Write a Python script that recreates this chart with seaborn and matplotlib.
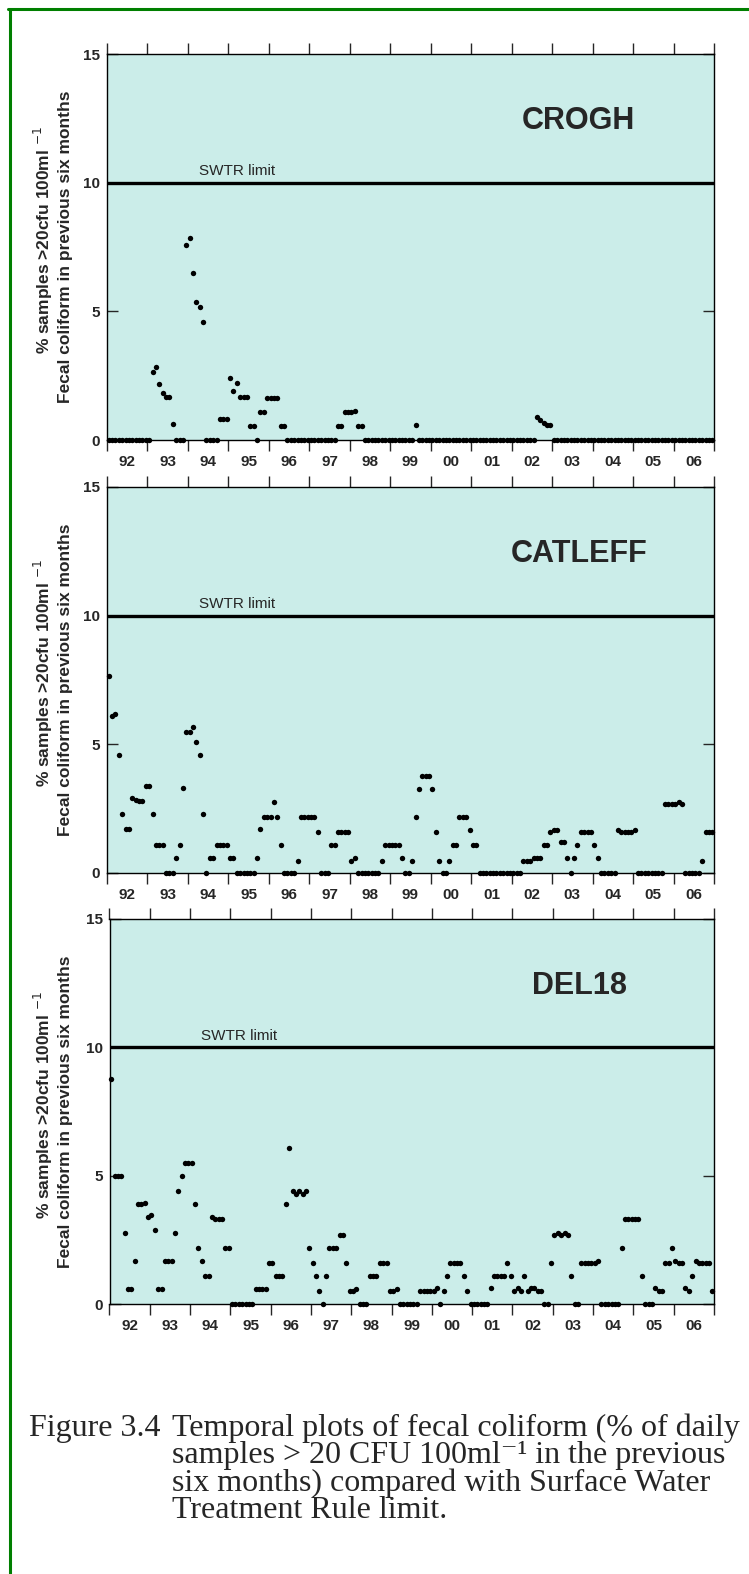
import numpy as np
import pandas as pd
import matplotlib.pyplot as plt
import seaborn as sns
from matplotlib.lines import Line2D

sns.set_style("ticks")
plt.rcParams['font.family'] = ['Liberation Sans', 'DejaVu Sans']

#
# Monthly values, Jan 1992 - Dec 2006 (one row per year)

stations = ["CROGH", "CATLEFF", "DEL18"]
year_labels = ["92", "93", "94", "95", "96", "97", "98", "99",
               "00", "01", "02", "03", "04", "05", "06"]
swtr_limit = 10

crogh = [
    0, 0, 0, 0, 0, 0, 0, 0, 0, 0, 0, 0,
    0, 2.66, 2.85, 2.19, 1.81, 1.68, 1.68, 0.61, 0, 0, 0, 7.58,
    7.84, 6.50, 5.36, 5.16, 4.57, 0, 0, 0, 0, 0.80, 0.80, 0.80,
    2.40, 1.92, 2.23, 1.67, 1.67, 1.67, 0.53, 0.53, 0, 1.08, 1.08, 1.63,
    1.63, 1.63, 1.63, 0.53, 0.53, 0, 0, 0, 0, 0, 0, 0,
    0, 0, 0, 0, 0, 0, 0, 0, 0.53, 0.53, 1.08, 1.08,
    1.10, 1.11, 0.53, 0.53, 0, 0, 0, 0, 0, 0, 0, 0,
    0, 0, 0, 0, 0, 0, 0, 0.58, 0, 0, 0, 0,
    0, 0, 0, 0, 0, 0, 0, 0, 0, 0, 0, 0,
    0, 0, 0, 0, 0, 0, 0, 0, 0, 0, 0, 0,
    0, 0, 0, 0, 0, 0, 0, 0.88, 0.78, 0.68, 0.60, 0.58,
    0, 0, 0, 0, 0, 0, 0, 0, 0, 0, 0, 0,
    0, 0, 0, 0, 0, 0, 0, 0, 0, 0, 0, 0,
    0, 0, 0, 0, 0, 0, 0, 0, 0, 0, 0, 0,
    0, 0, 0, 0, 0, 0, 0, 0, 0, 0, 0, 0,
]

catleff = [
    7.67, 6.10, 6.18, 4.57, 2.29, 1.70, 1.70, 2.90, 2.83, 2.79, 2.79, 3.39,
    3.39, 2.29, 1.09, 1.09, 1.09, 0, 0, 0, 0.57, 1.09, 3.29, 5.49,
    5.49, 5.69, 5.08, 4.57, 2.29, 0, 0.57, 0.57, 1.09, 1.09, 1.09, 1.09,
    0.57, 0.57, 0, 0, 0, 0, 0, 0, 0.57, 1.70, 2.19, 2.19,
    2.19, 2.77, 2.19, 1.09, 0, 0, 0, 0, 0.47, 2.19, 2.19, 2.19,
    2.19, 2.19, 1.58, 0, 0, 0, 1.09, 1.09, 1.58, 1.58, 1.58, 1.58,
    0.47, 0.57, 0, 0, 0, 0, 0, 0, 0, 0.47, 1.09, 1.09,
    1.09, 1.09, 1.09, 0.57, 0, 0, 0.47, 2.18, 3.28, 3.78, 3.78, 3.78,
    3.28, 1.58, 0.47, 0, 0, 0.47, 1.08, 1.08, 2.18, 2.18, 2.18, 1.68,
    1.08, 1.08, 0, 0, 0, 0, 0, 0, 0, 0, 0, 0,
    0, 0, 0, 0.47, 0.47, 0.47, 0.57, 0.57, 0.57, 1.08, 1.08, 1.58,
    1.68, 1.68, 1.19, 1.19, 0.57, 0, 0.57, 1.08, 1.58, 1.58, 1.58, 1.58,
    1.08, 0.57, 0, 0, 0, 0, 0, 1.68, 1.58, 1.58, 1.58, 1.58,
    1.68, 0, 0, 0, 0, 0, 0, 0, 0, 2.67, 2.67, 2.67,
    2.67, 2.77, 2.67, 0, 0, 0, 0, 0, 0.47, 1.58, 1.58, 1.58,
]

del18 = [
    8.78, 4.99, 4.99, 4.99, 2.78, 0.60, 0.60, 1.69, 3.90, 3.90, 3.95, 3.38,
    3.45, 2.88, 0.60, 0.60, 1.69, 1.69, 1.69, 2.78, 4.39, 4.99, 5.48, 5.48,
    5.48, 3.90, 2.17, 1.69, 1.09, 1.09, 3.40, 3.30, 3.30, 3.30, 2.17, 2.17,
    0, 0, 0, 0, 0, 0, 0, 0.60, 0.60, 0.60, 0.60, 1.58,
    1.58, 1.09, 1.09, 1.09, 3.90, 6.08, 4.39, 4.29, 4.39, 4.29, 4.39, 2.17,
    1.58, 1.09, 0.49, 0, 1.09, 2.17, 2.17, 2.17, 2.69, 2.69, 1.58, 0.49,
    0.49, 0.60, 0, 0, 0, 1.09, 1.09, 1.09, 1.58, 1.58, 1.58, 0.49,
    0.49, 0.60, 0, 0, 0, 0, 0, 0, 0.51, 0.51, 0.51, 0.51,
    0.51, 0.61, 0, 0.51, 1.08, 1.58, 1.58, 1.58, 1.58, 1.08, 0.51, 0,
    0, 0, 0, 0, 0, 0.61, 1.08, 1.08, 1.08, 1.08, 1.58, 1.08,
    0.51, 0.61, 0.51, 1.08, 0.51, 0.61, 0.61, 0.51, 0.51, 0, 0, 1.58,
    2.70, 2.78, 2.70, 2.78, 2.70, 1.08, 0, 0, 1.58, 1.58, 1.58, 1.58,
    1.58, 1.69, 0, 0, 0, 0, 0, 0, 2.18, 3.30, 3.30, 3.30,
    3.30, 3.30, 1.08, 0, 0, 0, 0.61, 0.51, 0.51, 1.58, 1.58, 2.18,
    1.69, 1.58, 1.58, 0.61, 0.51, 1.08, 1.69, 1.58, 1.58, 1.58, 1.58, 0.51,
]

series = [crogh, catleff, del18]

# sample month positions (mid-month, decimal years)
months = 1992 + (np.arange(len(crogh)) + 0.5) / 12

#%%
# Figure layout in pixels (left, top, right, bottom) of each panel

W, H = 749, 1574
boxes = [(107, 54, 714, 440), (107, 487, 714, 873), (109.5, 919, 714, 1304)]
bg = "#cbede9"

fig = plt.figure(figsize=(W / 100, H / 100), dpi=100)

ylab1 = "% samples >20cfu 100ml $^{-1}$"
ylab2 = "Fecal coliform in previous six months"

for name, vals, (l, t, r, b) in zip(stations, series, boxes):
    ax = fig.add_axes([l / W, 1 - b / H, (r - l) / W, (b - t) / H])
    ax.set_facecolor(bg)

    df = pd.DataFrame({"year": months, "pct": vals})
    sns.scatterplot(data=df, x="year", y="pct", ax=ax, color="black",
                    s=15, linewidth=0, clip_on=False, zorder=3)
    ax.axhline(swtr_limit, color="black", lw=2.4, zorder=2)

    ax.set_xlim(1992, 2007)
    ax.set_ylim(0, 15)
    ax.set_xlabel("")
    ax.set_ylabel("")

    ax.set_xticks(np.arange(1992, 2008))
    ax.set_xticks(np.arange(1992, 2007) + 0.5, minor=True)
    ax.set_xticklabels([], minor=False)
    ax.set_xticklabels(year_labels, minor=True, fontweight="bold")
    ax.tick_params(axis="x", which="major", direction="out", length=8,
                   width=1, top=True, bottom=True, labelbottom=False)
    ax.tick_params(axis="x", which="minor", length=0, labelsize=11, pad=11)

    ax.set_yticks([0, 5, 10, 15])
    ax.set_yticklabels(["0", "5", "10", "15"], fontweight="bold")
    ax.tick_params(axis="y", direction="in", length=8, width=1,
                   left=True, right=True, labelsize=11, pad=5)

    for sp in ax.spines.values():
        sp.set_linewidth(1)
        sp.set_color("black")

    ax.text(2003.66, 12.4, name, ha="center", va="center",
            fontsize=22, fontweight="bold")
    ax.text(1994.27, 10.28, "SWTR limit", ha="left", va="baseline", fontsize=11)

    yc = 1 - (t + b) / 2 / H
    fig.text(43 / W, yc + 7 / H, ylab1, rotation=90, ha="center", va="center",
             fontsize=12.5, fontweight="bold")
    fig.text(66 / W, yc, ylab2, rotation=90, ha="center", va="center",
             fontsize=12.5, fontweight="bold")

#%%
# Caption and page border

serif = ["Liberation Serif", "DejaVu Serif"]
cap_text = ("Temporal plots of fecal coliform (% of daily\n"
            "samples > 20 CFU 100ml\u207b\u00b9 in the previous\n"
            "six months) compared with Surface Water\n"
            "Treatment Rule limit.")

fig.text(29 / W, 1 - 1436 / H, "Figure 3.4", family=serif,
         fontsize=23, va="baseline", ha="left")
# va="baseline" on a multi-line text sits on its last line
fig.text(172 / W, 1 - 1518 / H, cap_text, family=serif, fontsize=23,
         va="baseline", ha="left", linespacing=0.92)

green = "#007f00"
fig.add_artist(Line2D([9.5 / W, 9.5 / W], [0, 1 - 8.5 / H], color=green,
                      lw=2.2, transform=fig.transFigure))
fig.add_artist(Line2D([8 / W, 1], [1 - 8.5 / H, 1 - 8.5 / H], color=green,
                      lw=2.2, transform=fig.transFigure))

fig.savefig("out.png", dpi=100)
